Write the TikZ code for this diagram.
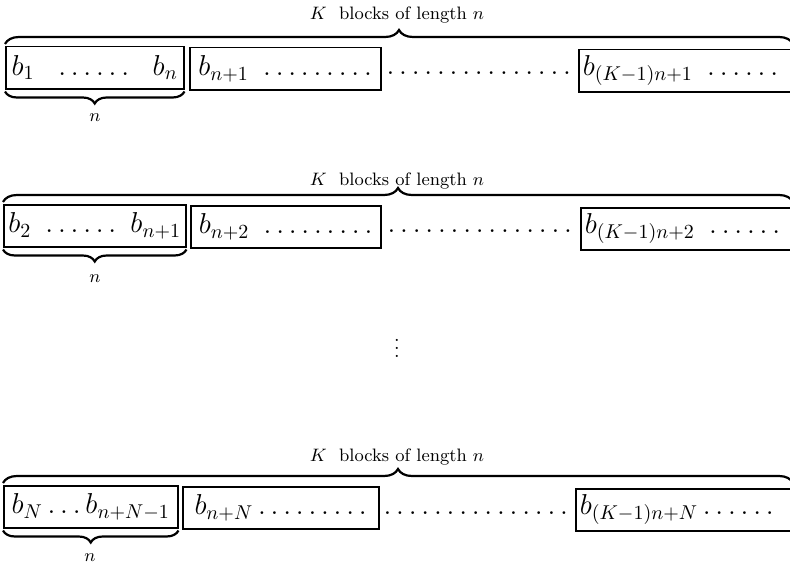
\documentclass[tikz,border=0pt]{standalone}
\usepackage{amsmath,amssymb}
\usetikzlibrary{positioning, decorations.pathreplacing}

\begin{document}
\begin{tikzpicture}[
    x=0.5pt, y=-0.5pt,
    blk/.style    = {draw, line width=0.75pt, minimum height=21pt, inner sep=2pt, anchor=north west, font=\Large},
    lastblk/.style = {blk, text width=106pt, align=left},
    gap/.style    = {font=\Large, inner sep=0pt},
    topbrace/.style = {decorate, decoration={brace, amplitude=7pt}, line width=1.1pt},
    botbrace/.style = {decorate, decoration={brace, amplitude=6pt, raise=1pt}, line width=1.1pt},
    lbl/.style    = {font=\small, inner sep=1pt}
]
\clip (0,0) rectangle (790,567);
\useasboundingbox (0,0) rectangle (790,567);

% Row 1
\node (a1) [blk, minimum width=89pt] at (5,46) {$b_1\ \ \ldots\ldots\ \ b_n$};
\node (a2) [blk, minimum width=95.5pt] at (189,47) {$b_{n+1}\ \ldots\ldots\ldots$};
\node (a4) [lastblk] at (578,49) {$b_{(K-1)n+1}\ \ldots\ldots$};
\node (a3) [gap] at (479,73) {$\ldots\ldots\ldots\ldots\ldots$};
\coordinate (ae) at (793,44);
\draw [topbrace] (a1.north west |- ae) -- (ae);
\draw [botbrace] (a1.south east) -- (a1.south west);
\node (ak) [lbl] at (397,15) {$K$\ \ blocks of length $n$};
\node (an) [lbl] at (95,118) {$n$};

% Row 2
\node (b1) [blk, minimum width=91pt] at (3,204) {$b_2\ \ldots\ldots\ b_{n+1}$};
\node (b2) [blk, minimum width=95pt] at (190,205) {$b_{n+2}\ \ldots\ldots\ldots$};
\node (b4) [lastblk] at (580,207) {$b_{(K-1)n+2}\ \ldots\ldots$};
\node (b3) [gap] at (480,231) {$\ldots\ldots\ldots\ldots\ldots$};
\coordinate (be) at (793,202);
\draw [topbrace] (b1.north west |- be) -- (be);
\draw [botbrace] (b1.south east) -- (b1.south west);
\node (bk) [lbl] at (397,181) {$K$\ \ blocks of length $n$};
\node (bn) [lbl] at (95,279) {$n$};

% more rows
\node (vd) [inner sep=0pt] at (397,342) {$\vdots$};

% Row N
\node (c1) [blk, minimum width=87pt] at (3,485) {$b_N\ldots b_{n+N-1}$};
\node (c2) [blk, minimum width=98pt] at (182,486) {$b_{n+N}\ldots\ldots\ldots$};
\node (c4) [lastblk] at (575,488) {$b_{(K-1)n+N}\ldots\ldots$};
\node (c3) [gap] at (476,513) {$\ldots\ldots\ldots\ldots\ldots$};
\coordinate (ce) at (793,483);
\draw [topbrace] (c1.north west |- ce) -- (ce);
\draw [botbrace] (c1.south east) -- (c1.south west);
\node (ck) [lbl] at (397,457) {$K$\ \ blocks of length $n$};
\node (cn) [lbl] at (90,558) {$n$};

\end{tikzpicture}
\end{document}
